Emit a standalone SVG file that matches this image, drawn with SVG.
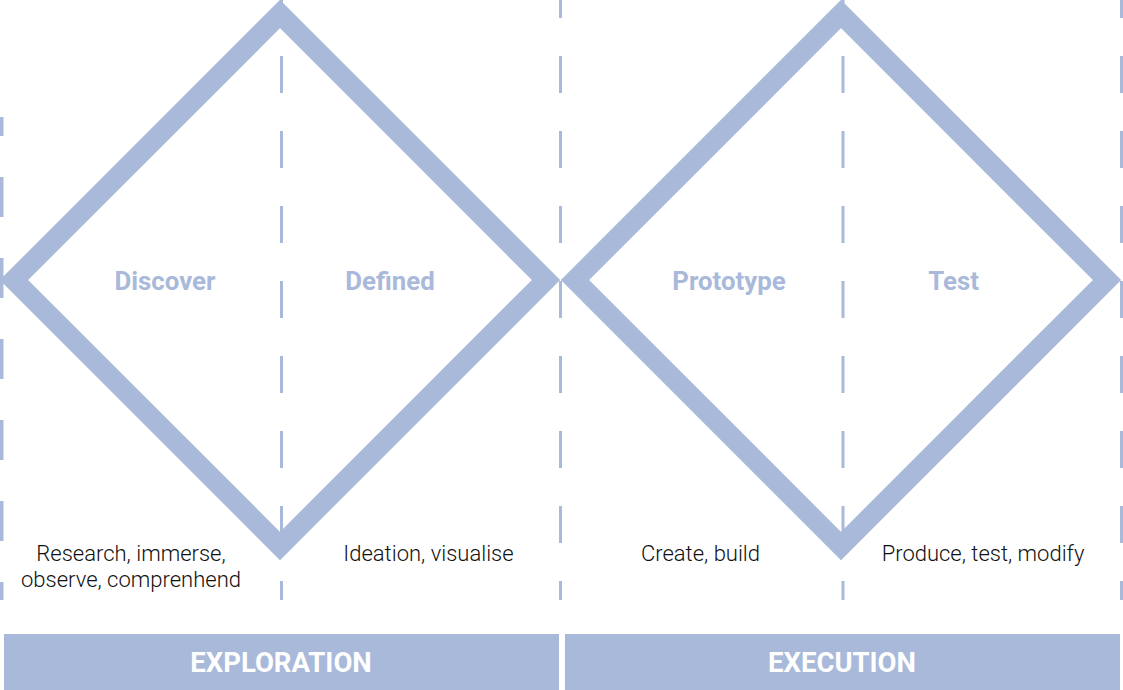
<svg xmlns="http://www.w3.org/2000/svg" width="1123" height="690" viewBox="0 0 1123 690">
<style>
.dash{stroke:#a9b9da;stroke-width:3;fill:none;stroke-dasharray:37 38;stroke-dashoffset:19}
.dia{fill:none;stroke:#a9b9da;stroke-width:20;stroke-linejoin:miter;stroke-miterlimit:10}
.title{font-family:Roboto,"Liberation Sans",sans-serif;font-weight:700;font-size:25.8px;fill:#a9b9da;text-anchor:middle}
.body{font-family:Roboto,"Liberation Sans",sans-serif;font-weight:300;font-size:22px;fill:#111;text-anchor:middle}
.bar{fill:#a9b9da}
.bartext{font-family:Roboto,"Liberation Sans",sans-serif;font-weight:700;font-size:27.5px;fill:#fff;text-anchor:middle}
</style>
<rect width="1123" height="690" fill="#fff"/>
<g id="diamond-exploration">
<polygon class="dia" points="280,14 546,280 280,546 14,280"/>
</g>
<g id="diamond-execution">
<polygon class="dia" points="841,14 1107,280 841,546 575,280"/>
</g>
<g id="connectors">
<line x1="1.5" y1="117" x2="1.5" y2="600" style="stroke:#a9b9da;stroke-width:4;stroke-dasharray:40 41;stroke-dashoffset:21"/>
<line class="dash" x1="281.5" y1="0" x2="281.5" y2="600"/>
<line class="dash" x1="560.5" y1="0" x2="560.5" y2="600"/>
<line class="dash" x1="843" y1="0" x2="843" y2="600"/>
<line class="dash" x1="1121.5" y1="0" x2="1121.5" y2="600"/>
</g>
<g id="discover">
<text class="title" x="165" y="290">Discover</text>
<text class="body" x="131" y="561">Research, immerse,</text>
<text class="body" x="131" y="587">observe, comprenhend</text>
</g>
<g id="defined">
<text class="title" x="390" y="290">Defined</text>
<text class="body" x="428.5" y="561">Ideation, visualise</text>
</g>
<g id="prototype">
<text class="title" x="729" y="290">Prototype</text>
<text class="body" x="700.5" y="561">Create, build</text>
</g>
<g id="test">
<text class="title" x="953.5" y="290">Test</text>
<text class="body" x="983" y="561">Produce, test, modify</text>
</g>
<g id="exploration">
<rect class="bar" x="4" y="634" width="555" height="56"/>
<text class="bartext" x="281" y="672">EXPLORATION</text>
</g>
<g id="execution">
<rect class="bar" x="565" y="634" width="555" height="56"/>
<text class="bartext" x="842" y="672">EXECUTION</text>
</g>
</svg>
